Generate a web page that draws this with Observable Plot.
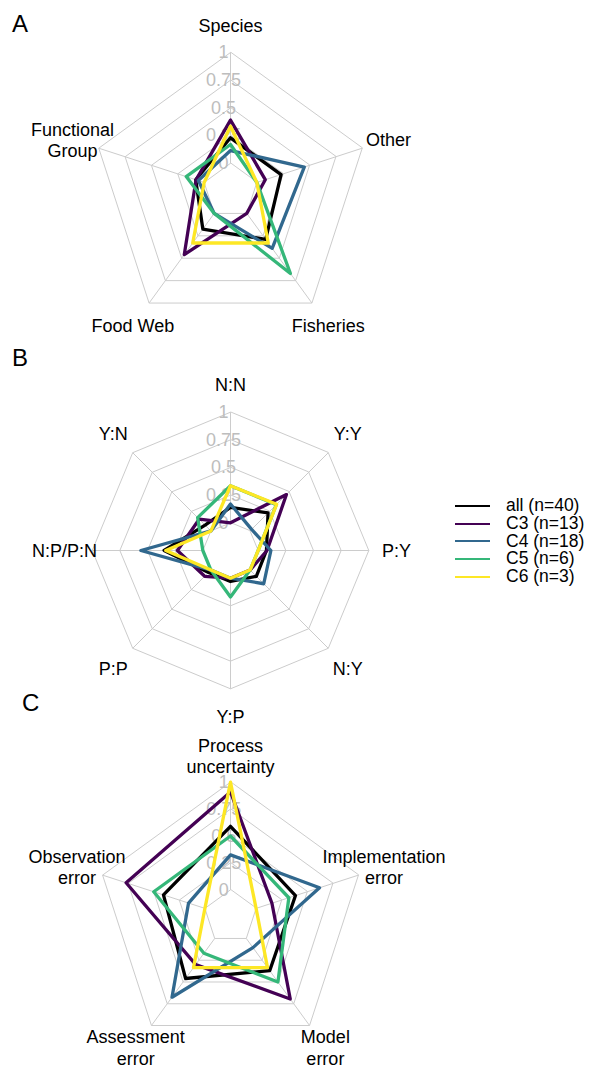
<!DOCTYPE html>
<html><head><meta charset="utf-8">
<script src="https://cdn.jsdelivr.net/npm/d3@7"></script>
<script src="https://cdn.jsdelivr.net/npm/@observablehq/plot@0.6"></script>
<style>
body{margin:0;background:#fff;}
#page{position:relative;width:592px;height:1067px;overflow:hidden;font-family:"Liberation Sans",Arial,sans-serif;color:#000;}
.panel{position:absolute;left:0;}
.letter{position:absolute;font-size:24px;line-height:24px;}
#legend{position:absolute;left:455px;top:497px;font-size:17.5px;}
.row{display:flex;align-items:center;height:17.8px;line-height:17.8px;white-space:nowrap;}
.sw{width:35px;height:2px;margin-right:16px;}
</style></head><body><div id="page"></div>
<script>
// ---- data ----
const groups = ["all (n=40)", "C3 (n=13)", "C4 (n=18)", "C5 (n=6)", "C6 (n=3)"];
const colors = ["#000000", "#440154", "#31688E", "#35B779", "#FDE725"];
const ticks = [0, 0.25, 0.5, 0.75, 1];
const tickLabels = ["0", "0.25", "0.5", "0.75", "1"];

// Panel A (axes counter-clockwise from top)
const axesA = ["Species", "Functional\nGroup", "Food Web", "Fisheries", "Other"];
const allA = [0.23, 0.08, 0.175, 0.29, 0.23];
const c3A  = [0.39, 0.077, 0.46, 0.0, 0.08];
const c4A  = [0.115, 0.055, 0.0, 0.39, 0.45];
const c5A  = [0.17, 0.17, 0.0, 0.67, 0.0];
const c6A  = [0.335, 0.0, 0.33, 0.33, 0.0];

// Panel B
const axesB = ["N:N", "Y:N", "N:P/P:N", "P:P", "Y:P", "N:Y", "P:Y", "Y:Y"];
const allB = [0.14, 0.075, 0.35, 0.03, 0.03, 0.08, 0.075, 0.23];
const c3B  = [0.0, 0.15, 0.23, 0.08, 0.0, 0.0, 0.08, 0.465];
const c4B  = [0.17, 0.0, 0.56, 0.0, 0.0, 0.175, 0.115, 0.02];
const c5B  = [0.335, 0.17, 0.0, 0.0, 0.17, 0.0, 0.0, 0.335];
const c6B  = [0.335, 0.0, 0.335, 0.0, 0.0, 0.0, 0.0, 0.34];

// Panel C
const axesC = ["Process\nuncertainty", "Observation\nerror", "Assessment\nerror", "Model\nerror", "Implementation\nerror"];
const allC = [0.59, 0.405, 0.46, 0.37, 0.385];
const c3C  = [0.91, 0.77, 0.30, 0.695, 0.155];
const c4C  = [0.325, 0.16, 0.675, 0.105, 0.62];
const c5C  = [0.5, 0.5, 0.17, 0.5, 0.32];
const c6C  = [1.0, 0.0, 0.335, 0.335, 0.0];

// ---- drawing ----
const W = 592;
const FONT = '"Liberation Sans", Arial, sans-serif';

function radar({axes, series, R, cx, cy, height}) {
  const n = axes.length;
  const ang = i => Math.PI / 2 + 2 * Math.PI * i / n;
  const rad = v => 0.2 + 0.8 * v;            // inner hole as in fmsb radarchart
  const px = (i, r) => r * Math.cos(ang(i));
  const py = (i, r) => r * Math.sin(ang(i));
  const rings = ticks.flatMap(t => axes.map((a, i) => ({ring: t, x: px(i, rad(t)), y: py(i, rad(t))})));
  const spokes = axes.map((a, i) => ({x1: px(i, 0.2), y1: py(i, 0.2), x2: px(i, 1), y2: py(i, 1)}));
  const labels = axes.map((a, i) => ({label: a, x: px(i, 1.2), y: py(i, 1.2)}));
  const tickData = ticks.map((t, k) => ({label: tickLabels[k], x: -0.05, y: rad(t)}));
  const lines = groups.flatMap((g, gi) => series[gi].map((v, i) => ({group: g, x: px(i, rad(v)), y: py(i, rad(v))})));
  return Plot.plot({
    width: W, height, margin: 0,
    x: {domain: [-cx / R, (W - cx) / R], axis: null},
    y: {domain: [-(height - cy) / R, cy / R], axis: null},
    color: {domain: groups, range: colors},
    style: {fontFamily: FONT, fontSize: "18px", background: "transparent", overflow: "visible"},
    marks: [
      Plot.line(rings, {x: "x", y: "y", z: "ring", curve: "linear-closed", stroke: "#cccccc", strokeWidth: 1}),
      Plot.link(spokes, {x1: "x1", y1: "y1", x2: "x2", y2: "y2", stroke: "#cccccc", strokeWidth: 1}),
      Plot.text(tickData, {x: "x", y: "y", text: "label", fill: "#bdbdbd", fontSize: 18}),
      Plot.line(lines, {x: "x", y: "y", z: "group", stroke: "group", strokeWidth: 3.3, curve: "linear-closed", strokeLinejoin: "round"}),
      Plot.text(labels, {x: "x", y: "y", text: "label", fontSize: 18, lineHeight: 1.17, fill: "black"})
    ]
  });
}

const page = document.getElementById("page");
function place(node, top) {
  node.classList.add("panel");
  node.style.top = top + "px";
  page.appendChild(node);
}
place(radar({axes: axesA, series: [allA, c3A, c4A, c5A, c6A], R: 138.5, cx: 230, cy: 190.5, height: 360}), 0);
place(radar({axes: axesB, series: [allB, c3B, c4B, c5B, c6B], R: 138.3, cx: 230, cy: 190, height: 370}), 360);
place(radar({axes: axesC, series: [allC, c3C, c4C, c5C, c6C], R: 134.5, cx: 230, cy: 186.2, height: 337}), 730);

[["A", 12, 12], ["B", 12, 346], ["C", 22, 691]].forEach(([t, l, tp]) => {
  const d = document.createElement("div");
  d.className = "letter"; d.textContent = t;
  d.style.left = l + "px"; d.style.top = tp + "px";
  page.appendChild(d);
});

const legend = document.createElement("div");
legend.id = "legend";
groups.forEach((g, i) => {
  const row = document.createElement("div");
  row.className = "row";
  const sw = document.createElement("span");
  sw.className = "sw"; sw.style.background = colors[i];
  const tx = document.createElement("span");
  tx.textContent = g;
  row.appendChild(sw); row.appendChild(tx);
  legend.appendChild(row);
});
page.appendChild(legend);
</script>
</body></html>
